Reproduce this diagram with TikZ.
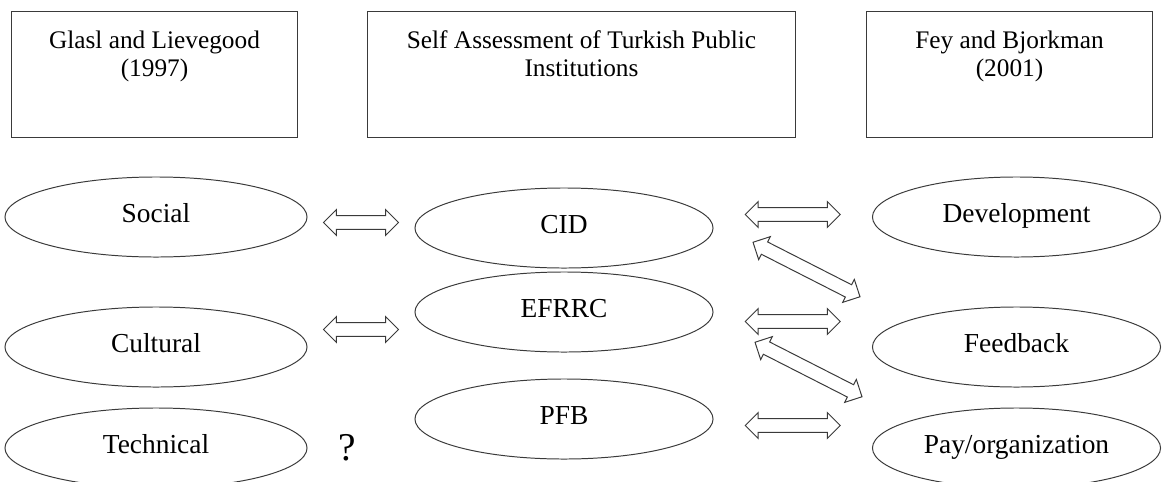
\documentclass[tikz,border=0pt]{standalone}
\usepackage{fontspec}
\setmainfont{Liberation Serif}
\usetikzlibrary{calc, positioning, shapes.geometric, shapes.arrows}
\definecolor{lineGray}{HTML}{3A3A3A}

\tikzset{
  srcbox/.style={draw=lineGray, line width=0.7pt, minimum width=7.125cm, minimum height=3.125cm, inner sep=0pt},
  headtext/.style={anchor=north, align=center, inner sep=0pt, yshift=-0.48cm},
  factor/.style={ellipse, draw=lineGray, line width=0.7pt, minimum width=7.55cm, minimum height=2cm, inner sep=0pt,
    font=\fontsize{19.5}{22}\selectfont, text height=0.47cm, text depth=0.2cm},
  link/.style={double arrow, draw=lineGray, line width=0.7pt, fill=white, inner xsep=0pt, inner ysep=0.16cm,
    minimum height=1.875cm, double arrow head extend=0.15cm}
}

\begin{document}
\begin{tikzpicture}[x=0.025cm, y=-0.025cm, font=\fontsize{18}{20}\selectfont]
  \useasboundingbox (0,0) rectangle (1164,481);

  % source boxes
  \node[srcbox] (glasl) at (154.5,74.5) {};
  \node[srcbox, minimum width=10.675cm] (selfbox) at (581.5,74.5) {};
  \node[srcbox] (fey) at (1009.5,74.5) {};
  \node[headtext] (glaslText) at (glasl.north) {Glasl and Lievegood\\(1997)};
  \node[headtext] (selfText) at (selfbox.north) {Self Assessment of Turkish Public\\Institutions};
  \node[headtext] (feyText) at (fey.north) {Fey and Bjorkman\\(2001)};

  % ellipses
  \node[factor] (social) at (156,217) {Social};
  \node[factor] (cultural) at (156,347) {Cultural};
  \node[factor] (technical) at (156,448) {Technical};
  \node[factor, minimum width=7.45cm] (cid) at (564,228) {CID};
  \node[factor, minimum width=7.45cm] (efrrc) at (564,312) {EFRRC};
  \node[factor, minimum width=7.45cm] (pfb) at (564,419) {PFB};
  \node[factor, minimum width=7.2cm] (development) at (1016.5,217) {Development};
  \node[factor, minimum width=7.2cm] (feedback) at (1016.5,347) {Feedback};
  \node[factor, minimum width=7.2cm] (pay) at (1016.5,448) {Pay/organization};

  % block arrows
  \node[link] (socialCid) at ($(social.east)!0.5!(cid.west)$) {};
  \node[link] (culturalEfrrc) at ($(cultural.east)!0.5!(efrrc.west)$) {};
  \node[link, minimum height=2.375cm] (cidDev) at ($(cid.east)!0.5!(development.west)+(0,-8)$) {};
  \node[link, minimum height=2.375cm] (efrrcFeed) at ($(efrrc.east)!0.5!(feedback.west)+(0,-8)$) {};
  \node[link, minimum height=2.375cm] (pfbPay) at ($(pfb.east)!0.5!(pay.west)+(0,-8)$) {};
  \node[link, minimum height=3cm, rotate=-27] (cidFeed) at (806.5,269.5) {};
  \node[link, minimum height=3cm, rotate=-27] (efrrcPay) at (808.5,369.5) {};

  \node[font=\fontsize{28}{30}\selectfont] (unknown) at (347,448) {?};
\end{tikzpicture}
\end{document}
